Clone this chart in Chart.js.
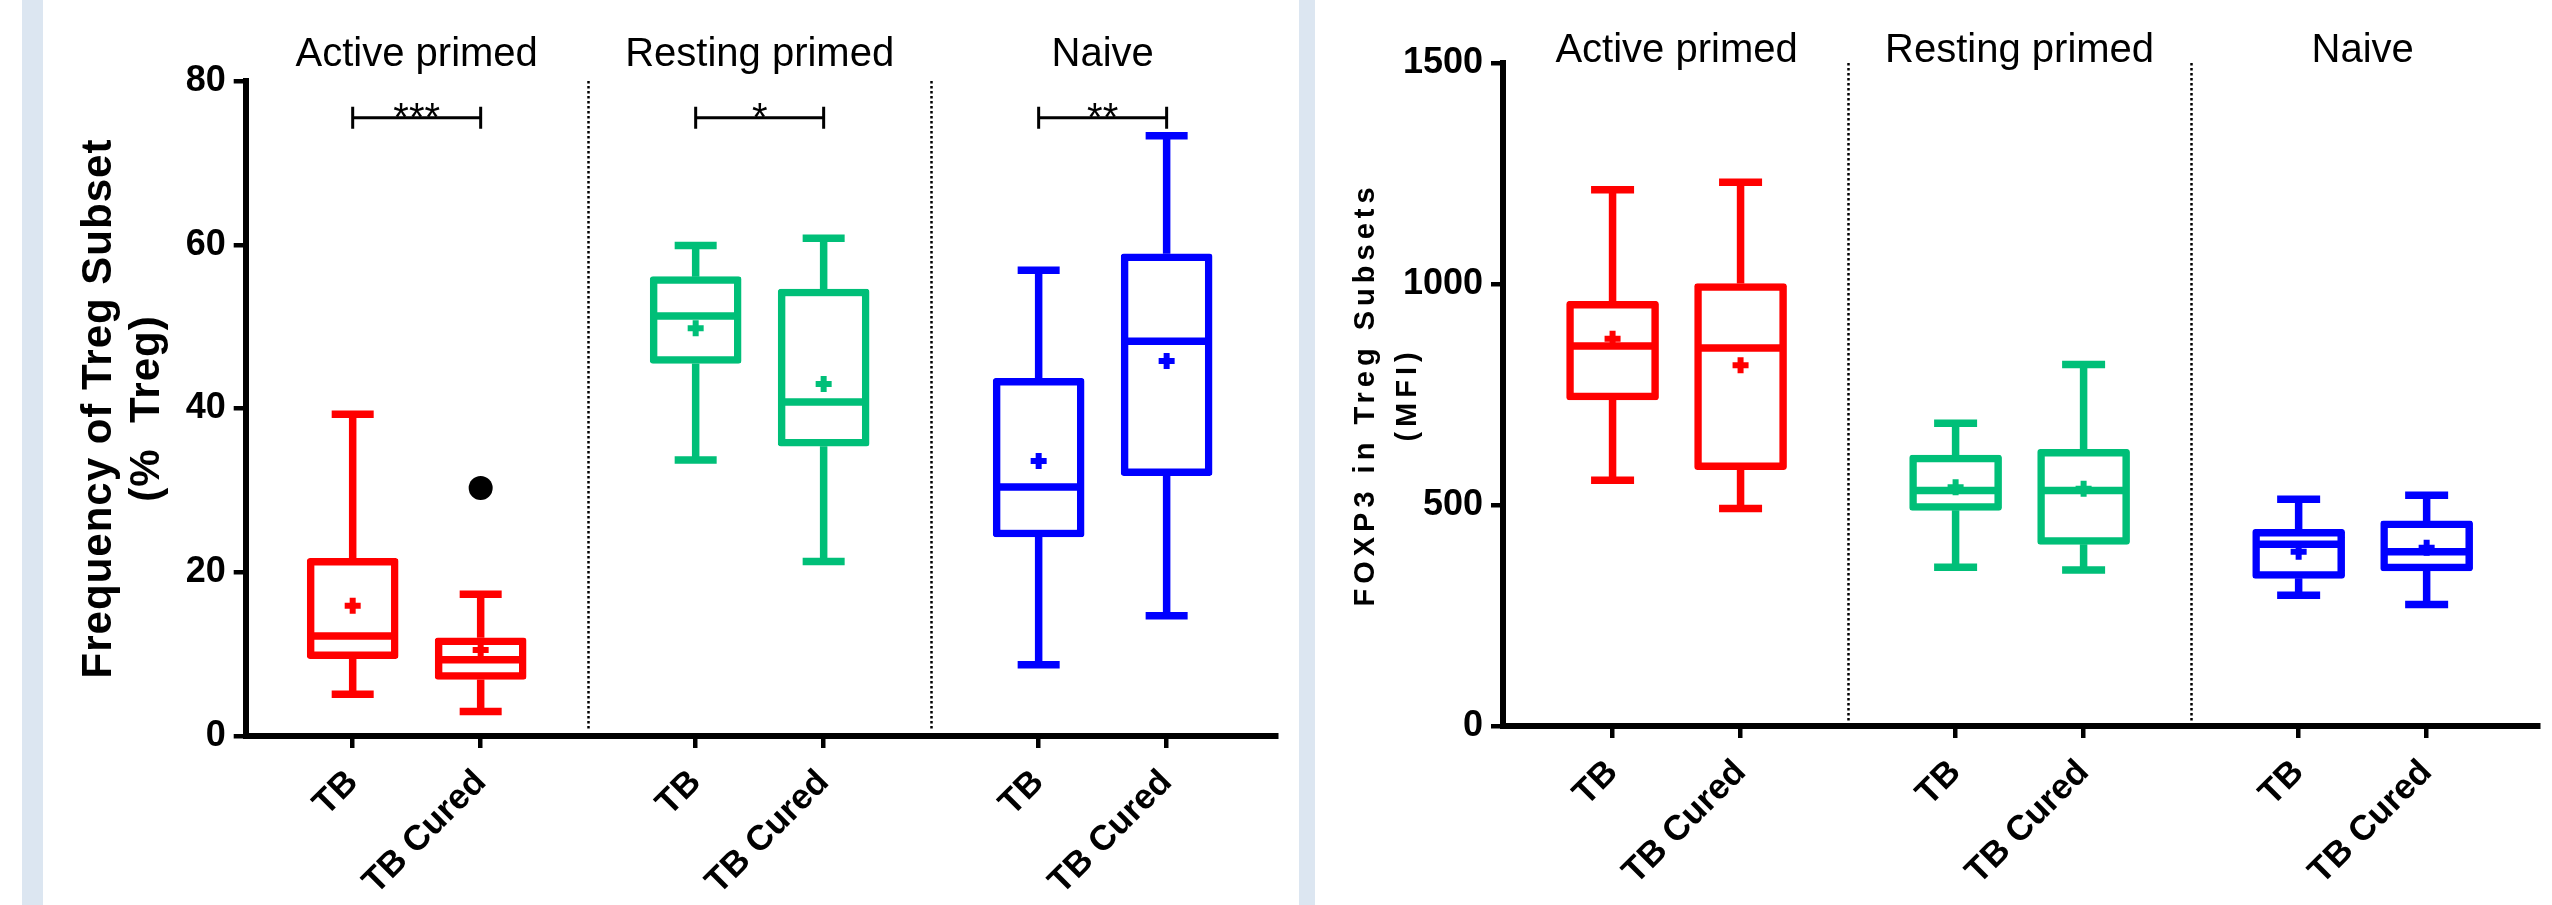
<!DOCTYPE html>
<html><head><meta charset="utf-8">
<script src="https://cdn.jsdelivr.net/npm/chart.js@4.4.1/dist/chart.umd.min.js"></script>
<style>
html,body{margin:0;padding:0;background:#fff;width:2552px;height:905px;overflow:hidden;position:relative}
.strip{position:absolute;top:0;height:905px;background:#dce6f1}
canvas{position:absolute;top:0}
</style></head><body>
<div class="strip" style="left:22px;width:21px"></div>
<div class="strip" style="left:1299px;width:16px"></div>
<canvas id="c1" width="1256" height="905" style="left:43px"></canvas>
<canvas id="c2" width="1237" height="905" style="left:1315px"></canvas>
<script>
// ---------- data ----------
const groups = ['Active primed', 'Resting primed', 'Naive'];
const conditions = ['TB', 'TB Cured'];

// Left panel: Frequency of Treg Subset (% Treg); order: Active TB, Active Cured, Resting TB, Resting Cured, Naive TB, Naive Cured
const freqMin    = [5.1, 3.0, 33.7, 21.3, 8.7, 14.7];
const freqQ1     = [9.45, 6.9, 45.5, 35.4, 24.3, 31.8];
const freqMedian = [12.2, 9.3, 51.3, 40.8, 30.4, 48.2];
const freqQ3     = [21.7, 12.0, 56.1, 54.6, 43.7, 58.9];
const freqMax    = [39.3, 17.3, 59.9, 60.8, 56.9, 73.3];
const freqMean   = [15.9, 10.5, 49.8, 43.0, 33.6, 45.8];
const freqOutliers = [[], [30.3], [], [], [], []];
const freqTicks  = [0, 20, 40, 60, 80];
const freqSignificance = ['***', '*', '**'];
const freqSignificanceLevel = [75.5, 75.5, 75.5];

// Right panel: FOXP3 in Treg Subsets (MFI)
const foxMin    = [556, 492, 359, 353, 296, 275];
const foxQ1     = [738, 580, 488, 411, 334, 351];
const foxMedian = [860, 855, 533, 533, 411, 394];
const foxQ3     = [961, 1001, 613, 626, 445, 464];
const foxMax    = [1213, 1230, 685, 818, 513, 522];
const foxMean   = [876, 816, 540, 537, 394, 403];
const foxOutliers = [[], [], [], [], [], []];
const foxTicks  = [0, 500, 1000, 1500];

// ---------- layout helpers ----------
const GROUP_STEP = 2.68;
const xPositions = [];
groups.forEach((g, gi) => conditions.forEach((c, ci) => xPositions.push(gi * GROUP_STEP + ci)));
const groupColors = ['#ff0000', '#00bf78', '#0000ff'];
const boxColors = xPositions.map((_, i) => groupColors[Math.floor(i / conditions.length)]);
const LW = 7.5;
const FONT = '"Liberation Sans", Arial, sans-serif';

const boxPlugin = {
  id: 'boxDetails',
  beforeDraw(chart) {
    const o = chart.options.plugins.boxDetails;
    const s = chart.scales.y;
    if (o.titleSpacing && s && !s.__patched) {
      const orig = s.drawTitle.bind(s);
      s.drawTitle = function () {
        const c = this.ctx; const prev = c.letterSpacing;
        c.letterSpacing = o.titleSpacing; orig(); c.letterSpacing = prev;
      };
      s.__patched = true;
    }
  },
  beforeDatasetsDraw(chart) {
    const { ctx, chartArea } = chart; const xs = chart.scales.x;
    ctx.save();
    ctx.strokeStyle = '#000'; ctx.lineWidth = 2.5; ctx.setLineDash([2.5, 2.5]);
    for (let g = 0; g < groups.length - 1; g++) {
      const v = (g * GROUP_STEP + conditions.length - 1 + (g + 1) * GROUP_STEP) / 2;
      const px = Math.round(xs.getPixelForValue(v)) + 0.5;
      ctx.beginPath(); ctx.moveTo(px, chartArea.top); ctx.lineTo(px, chartArea.bottom - 5); ctx.stroke();
    }
    ctx.restore();
  },
  afterDatasetDraw(chart, args) {
    if (args.index !== 0) return;
    const o = chart.options.plugins.boxDetails; const st = o.stats;
    const { ctx } = chart; const xs = chart.scales.x, ys = chart.scales.y;
    const half = o.boxWidth / 2, cap = o.capWidth / 2;
    ctx.save(); ctx.lineWidth = LW; ctx.lineCap = 'butt';
    xPositions.forEach((xv, i) => {
      const px = xs.getPixelForValue(xv);
      const yMin = ys.getPixelForValue(st.min[i]), yQ1 = ys.getPixelForValue(st.q1[i]);
      const yMed = ys.getPixelForValue(st.median[i]), yQ3 = ys.getPixelForValue(st.q3[i]);
      const yMax = ys.getPixelForValue(st.max[i]);
      ctx.strokeStyle = boxColors[i];
      ctx.beginPath();
      ctx.moveTo(px, yQ3); ctx.lineTo(px, yMax);
      ctx.moveTo(px - cap, yMax); ctx.lineTo(px + cap, yMax);
      ctx.moveTo(px, yQ1); ctx.lineTo(px, yMin);
      ctx.moveTo(px - cap, yMin); ctx.lineTo(px + cap, yMin);
      ctx.moveTo(px - half + 1, yMed); ctx.lineTo(px + half - 1, yMed);
      ctx.stroke();
    });
    ctx.restore();
  },
  afterDraw(chart) {
    const o = chart.options.plugins.boxDetails;
    const { ctx } = chart; const xs = chart.scales.x, ys = chart.scales.y;
    ctx.save();
    ctx.fillStyle = '#000'; ctx.textAlign = 'center'; ctx.textBaseline = 'alphabetic';
    ctx.font = '40px ' + FONT;
    groups.forEach((g, gi) => {
      const a = xs.getPixelForValue(xPositions[gi * 2]), b = xs.getPixelForValue(xPositions[gi * 2 + 1]);
      ctx.fillText(g, (a + b) / 2, o.titleBaseline);
    });
    if (o.significance) {
      ctx.strokeStyle = '#000'; ctx.lineWidth = 3;
      o.significance.forEach((txt, gi) => {
        const a = xs.getPixelForValue(xPositions[gi * 2]), b = xs.getPixelForValue(xPositions[gi * 2 + 1]);
        const y = ys.getPixelForValue(o.significanceLevel[gi]);
        ctx.beginPath();
        ctx.moveTo(a, y); ctx.lineTo(b, y);
        ctx.moveTo(a, y - 11); ctx.lineTo(a, y + 11);
        ctx.moveTo(b, y - 11); ctx.lineTo(b, y + 11);
        ctx.stroke();
        ctx.fillText(txt, (a + b) / 2, y + 13);
      });
    }
    ctx.restore();
  }
};

function makeChart(canvas, cfg) {
  const st = cfg.stats;
  const boxes = xPositions.map((x, i) => ({ x, y: [st.q1[i], st.q3[i]] }));
  const means = xPositions.map((x, i) => ({ x, y: st.mean[i] }));
  const outs = [];
  xPositions.forEach((x, i) => st.outliers[i].forEach(v => outs.push({ x, y: v })));
  const axisGrid = { display: true, drawOnChartArea: false, drawTicks: true, tickLength: 12, lineWidth: 4.5, color: '#000', offset: false };
  const axisBorder = { display: true, width: 6, color: '#000' };
  return new Chart(canvas, {
    type: 'bar',
    data: {
      datasets: [
        { type: 'bar', data: boxes, backgroundColor: '#fff', borderColor: boxColors, borderWidth: LW,
          borderSkipped: false, borderRadius: 3, barThickness: cfg.boxWidth, order: 2 },
        { type: 'scatter', data: means, pointStyle: 'cross', pointRadius: 8, pointBorderWidth: 6,
          borderColor: boxColors, backgroundColor: boxColors, order: 1 },
        { type: 'scatter', data: outs, pointStyle: 'circle', pointRadius: 12, pointBorderWidth: 0,
          borderColor: '#000', backgroundColor: '#000', order: 1 }
      ]
    },
    options: {
      responsive: false, animation: false, devicePixelRatio: 1,
      layout: { padding: { left: 0, top: cfg.top, right: cfg.right, bottom: 0 } },
      plugins: {
        legend: { display: false }, tooltip: { enabled: false },
        boxDetails: { stats: st, boxWidth: cfg.boxWidth, capWidth: cfg.capWidth, titleBaseline: cfg.titleBaseline,
          significance: cfg.significance, significanceLevel: cfg.significanceLevel, titleSpacing: cfg.titleSpacing }
      },
      scales: {
        x: {
          type: 'linear', min: cfg.xMin, max: cfg.xMax, offset: false,
          afterBuildTicks: s => { s.ticks = xPositions.map(v => ({ value: v })); },
          afterFit: s => { s.height = cfg.xAxisHeight; },
          ticks: { autoSkip: false, minRotation: 45, maxRotation: 45, padding: 14, color: '#000',
            font: { family: FONT, size: 35, weight: 'bold' },
            callback: (v, i) => conditions[i % conditions.length] },
          grid: axisGrid, border: axisBorder
        },
        y: {
          min: 0, max: cfg.yTicks[cfg.yTicks.length - 1],
          afterBuildTicks: s => { s.ticks = cfg.yTicks.map(v => ({ value: v })); },
          afterFit: s => { s.width = cfg.yAxisX; },
          ticks: { color: '#000', padding: 8, font: { family: FONT, size: 36, weight: 'bold' },
            callback: v => String(v) },
          grid: axisGrid, border: axisBorder,
          title: { display: true, text: cfg.yTitle, color: '#000',
            font: { family: FONT, size: cfg.yTitleSize, weight: 'bold', lineHeight: cfg.yTitleLH },
            padding: { top: cfg.yTitlePad, bottom: 0 } }
        }
      }
    },
    plugins: [boxPlugin]
  });
}

makeChart(document.getElementById('c1'), {
  stats: { min: freqMin, q1: freqQ1, median: freqMedian, q3: freqQ3, max: freqMax, mean: freqMean, outliers: freqOutliers },
  yTicks: freqTicks, yTitle: ['Frequency of Treg Subset', '(%  Treg)'], yTitleSize: 42, yTitleLH: 1.13, yTitlePad: 33,
  titleSpacing: '1px',
  top: 81, right: 22.3, yAxisX: 202.7, xAxisHeight: 169, xMin: -0.836, xMax: 7.22,
  boxWidth: 91, capWidth: 42, titleBaseline: 66,
  significance: freqSignificance, significanceLevel: freqSignificanceLevel
});

makeChart(document.getElementById('c2'), {
  stats: { min: foxMin, q1: foxQ1, median: foxMedian, q3: foxQ3, max: foxMax, mean: foxMean, outliers: foxOutliers },
  yTicks: foxTicks, yTitle: ['FOXP3 in Treg Subsets', '(MFI)'], yTitleSize: 29, yTitleLH: 1.45, yTitlePad: 30,
  titleSpacing: '5px',
  top: 63, right: 0, yAxisX: 188, xAxisHeight: 179, xMin: -0.856, xMax: 7.23,
  boxWidth: 92, capWidth: 43, titleBaseline: 62
});
</script>
</body></html>
